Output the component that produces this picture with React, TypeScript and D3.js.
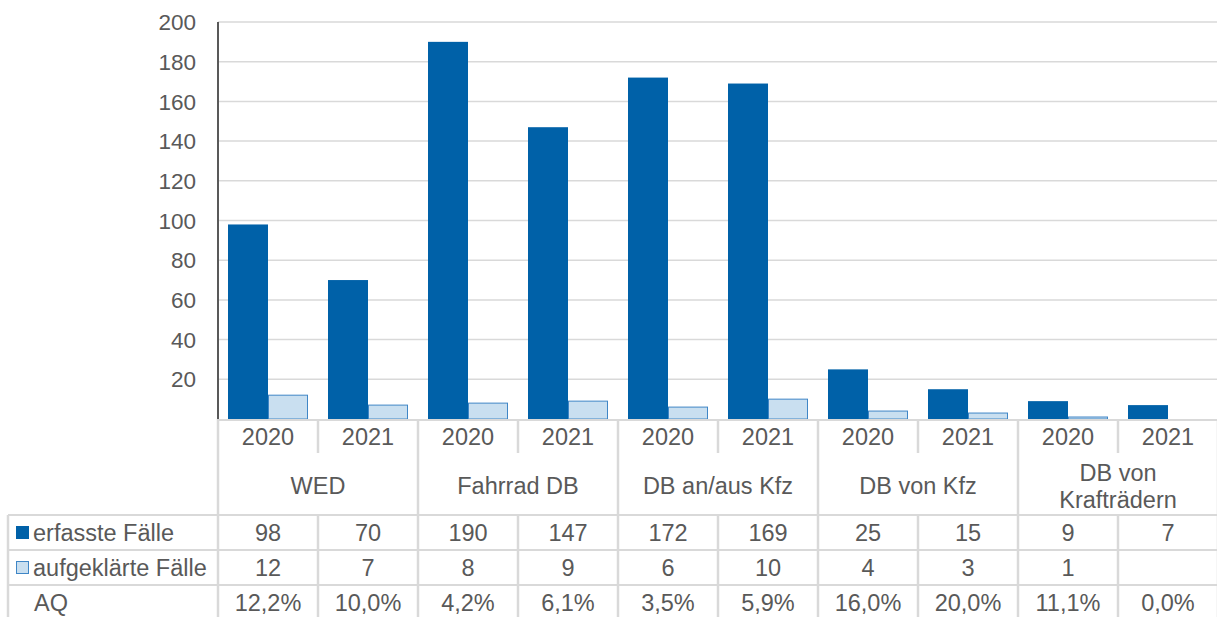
import React, { useEffect, useRef } from 'react';
import * as d3 from 'd3';

// Kategorien und Jahre
const categories = ['WED', 'Fahrrad DB', 'DB an/aus Kfz', 'DB von Kfz', 'DB von|Krafträdern'];
const years = ['2020', '2021'];

// Werte je Spalte (Kategorie x Jahr)
const erfasst = [98, 70, 190, 147, 172, 169, 25, 15, 9, 7];
const aufgeklaert = [12, 7, 8, 9, 6, 10, 4, 3, 1, null];
const aq = ['12,2%', '10,0%', '4,2%', '6,1%', '3,5%', '5,9%', '16,0%', '20,0%', '11,1%', '0,0%'];

const yTicks = [20, 40, 60, 80, 100, 120, 140, 160, 180, 200];

const seriesNames = ['erfasste Fälle', 'aufgeklärte Fälle'];

const W = 1217;
const H = 617;
const DARK = '#0061a8';
const LIGHT = '#c9dff0';
const LIGHT_STROKE = '#3f86c6';
const GRID = '#d9d9d9';
const TEXT = '#595959';
const FONT = '"Liberation Sans", Arial, sans-serif';

const App: React.FC = () => {
  const svgRef = useRef<SVGSVGElement | null>(null);

  useEffect(() => {
    if (!svgRef.current) return;
    const svg = d3.select(svgRef.current);
    svg.selectAll('*').remove();

    const left = 218;
    const right = 1218;
    const top = 22;
    const bottom = 419;
    const rowYear = 455;
    const rowCat = 515;
    const rowE = 550;
    const rowA = 585;
    const legendLeft = 8;
    const fs = 23.5;

    const cols = d3.range(erfasst.length);
    const x = d3.scaleBand<number>().domain(cols).range([left, right]).padding(0);
    const xGroup = d3.scaleBand<number>().domain(d3.range(categories.length)).range([left, right]).padding(0);
    const xInner = d3.scaleBand<string>()
      .domain(['e', 'a'])
      .range([0, x.bandwidth()])
      .paddingInner(0)
      .paddingOuter(0.25);
    const y = d3.scaleLinear().domain([0, 200]).range([bottom, top]);

    const g = svg.append('g').attr('font-family', FONT).attr('fill', TEXT);

    // Gitterlinien
    g.selectAll('.grid')
      .data(yTicks)
      .enter().append('line')
      .attr('x1', left)
      .attr('x2', right)
      .attr('y1', d => y(d))
      .attr('y2', d => y(d))
      .attr('stroke', GRID)
      .attr('stroke-width', 1.5);

    // Y-Achse Beschriftung
    g.selectAll('.ytick')
      .data(yTicks)
      .enter().append('text')
      .attr('x', 196)
      .attr('y', d => y(d))
      .attr('dy', '0.36em')
      .attr('text-anchor', 'end')
      .style('font-size', `${fs - 1}px`)
      .text(d => d);

    // Balken erfasste Fälle
    g.selectAll('.bar-e')
      .data(cols)
      .enter().append('rect')
      .attr('x', i => x(i)! + xInner('e')!)
      .attr('y', i => y(erfasst[i]))
      .attr('width', xInner.bandwidth())
      .attr('height', i => y(0) - y(erfasst[i]))
      .attr('fill', DARK);

    // Balken aufgeklärte Fälle
    g.selectAll('.bar-a')
      .data(cols.filter(i => aufgeklaert[i] != null))
      .enter().append('rect')
      .attr('x', i => x(i)! + xInner('a')! + 0.5)
      .attr('y', i => y(aufgeklaert[i] as number))
      .attr('width', xInner.bandwidth() - 1)
      .attr('height', i => y(0) - y(aufgeklaert[i] as number))
      .attr('fill', LIGHT)
      .attr('stroke', LIGHT_STROKE)
      .attr('stroke-width', 1);

    // Y-Achsenlinie
    g.append('line')
      .attr('x1', left).attr('x2', left)
      .attr('y1', top).attr('y2', bottom)
      .attr('stroke', '#595959')
      .attr('stroke-width', 2);

    // Tabellenlinien
    const hline = (yy: number, x1: number) =>
      g.append('line')
        .attr('x1', x1).attr('x2', right)
        .attr('y1', yy).attr('y2', yy)
        .attr('stroke', GRID).attr('stroke-width', 2);
    hline(bottom + 1, left);
    hline(rowCat, legendLeft);
    hline(rowE, legendLeft);
    hline(rowA, legendLeft);

    const vline = (xx: number, y1: number, y2: number) =>
      g.append('line')
        .attr('x1', xx).attr('x2', xx)
        .attr('y1', y1).attr('y2', y2)
        .attr('stroke', GRID).attr('stroke-width', 2.5);

    vline(legendLeft, rowCat, H);
    vline(left, bottom, H);
    cols.forEach(i => {
      const xx = x(i)! + x.bandwidth();
      if (i % 2 === 1) vline(xx, bottom, H);
      else {
        vline(xx, bottom, bottom + 34);
        vline(xx, rowCat, H);
      }
    });

    // Jahre
    g.selectAll('.year')
      .data(cols)
      .enter().append('text')
      .attr('x', i => x(i)! + x.bandwidth() / 2)
      .attr('y', 437)
      .attr('dy', '0.36em')
      .attr('text-anchor', 'middle')
      .style('font-size', `${fs}px`)
      .text(i => years[i % 2]);

    // Kategorien
    categories.forEach((c, k) => {
      const lines = c.split('|');
      const cy = (rowYear + rowCat) / 2 + 1;
      lines.forEach((ln, j) => {
        g.append('text')
          .attr('x', xGroup(k)! + xGroup.bandwidth() / 2)
          .attr('y', cy + (j - (lines.length - 1) / 2) * 27)
          .attr('dy', '0.36em')
          .attr('text-anchor', 'middle')
          .style('font-size', `${fs}px`)
          .text(ln);
      });
    });

    // Tabellenwerte
    const rows: { vals: (string | number | null)[]; cy: number }[] = [
      { vals: erfasst, cy: (rowCat + rowE) / 2 },
      { vals: aufgeklaert, cy: (rowE + rowA) / 2 },
      { vals: aq, cy: 603 },
    ];
    rows.forEach(r => {
      g.selectAll(null)
        .data(cols)
        .enter().append('text')
        .attr('x', i => x(i)! + x.bandwidth() / 2)
        .attr('y', r.cy)
        .attr('dy', '0.36em')
        .attr('text-anchor', 'middle')
        .style('font-size', `${fs}px`)
        .text(i => (r.vals[i] == null ? '' : String(r.vals[i])));
    });

    // Legende
    const legend = [
      { name: seriesNames[0], fill: DARK, stroke: DARK, cy: (rowCat + rowE) / 2 },
      { name: seriesNames[1], fill: LIGHT, stroke: LIGHT_STROKE, cy: (rowE + rowA) / 2 },
    ];
    legend.forEach(l => {
      g.append('rect')
        .attr('x', 16.5).attr('y', l.cy - 6)
        .attr('width', 12).attr('height', 12)
        .attr('fill', l.fill)
        .attr('stroke', l.stroke).attr('stroke-width', 1);
      g.append('text')
        .attr('x', 33).attr('y', l.cy)
        .attr('dy', '0.36em')
        .style('font-size', `${fs}px`)
        .text(l.name);
    });
    g.append('text')
      .attr('x', 34).attr('y', 603)
      .attr('dy', '0.36em')
      .style('font-size', `${fs}px`)
      .text('AQ');
  }, []);

  return (
    <div style={{ position: 'fixed', left: 0, top: 0, width: W, height: H, background: '#fff' }}>
      <svg ref={svgRef} width={W} height={H} />
    </div>
  );
};

export default App;
